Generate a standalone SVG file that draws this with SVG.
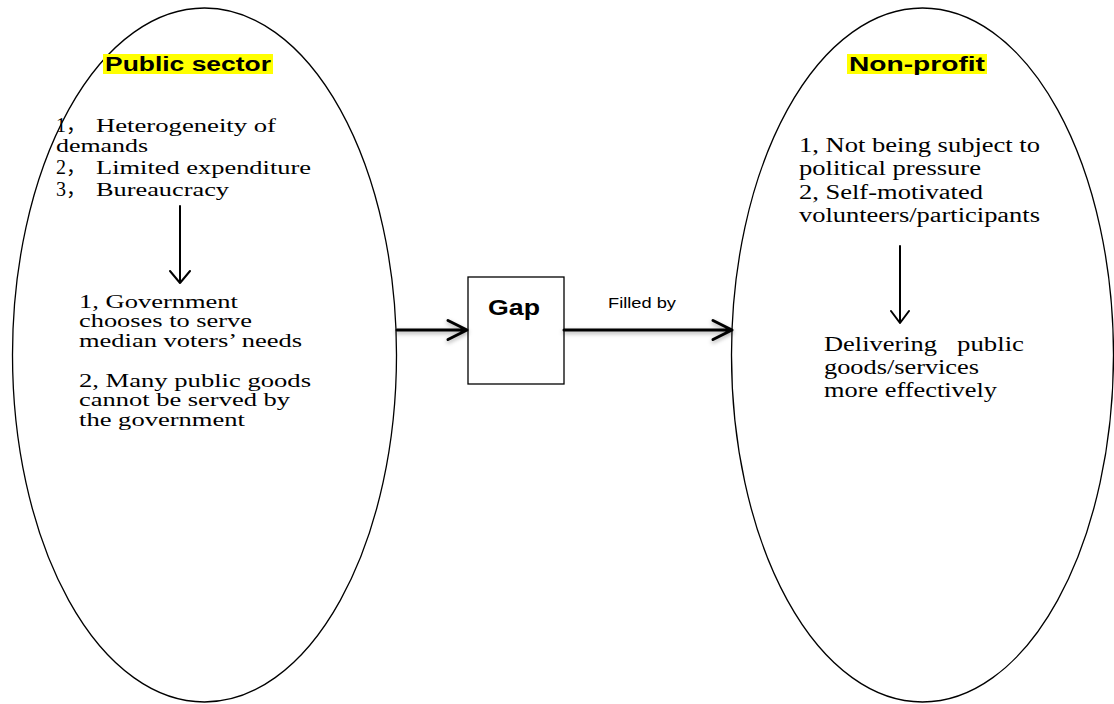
<svg xmlns="http://www.w3.org/2000/svg" width="1114" height="704" viewBox="0 0 1114 704">
<defs>
<filter id="sh" x="-10%" y="-50%" width="120%" height="300%">
<feDropShadow dx="0" dy="2" stdDeviation="2" flood-color="#000" flood-opacity="0.35"/>
</filter>
<style>
.ell{fill:#fff;stroke:#000;stroke-width:1.3}
.box{fill:#fff;stroke:#000;stroke-width:1.3}
.hl{fill:#ffff00}
.title{font-family:"Liberation Sans",Arial,sans-serif;font-weight:bold;font-size:20px;fill:#000}
.body{font-family:"Liberation Serif","Times New Roman","Noto Sans CJK SC",serif;font-size:20px;fill:#000}
.small{font-size:18px}
.num{font-size:20px}
.lbl{font-family:"Liberation Sans",Arial,sans-serif;font-size:14px;fill:#000}
.gap{font-family:"Liberation Sans",Arial,sans-serif;font-weight:bold;font-size:22px;fill:#000}
.thick{fill:none;stroke:#000;stroke-width:3;stroke-linecap:round;stroke-linejoin:round}
.thin{fill:none;stroke:#000;stroke-width:2;stroke-linecap:round;stroke-linejoin:round}
</style>
</defs>
<rect width="1114" height="704" fill="#fff"/>

<g id="public-sector">
<ellipse class="ell" cx="204.5" cy="355" rx="192" ry="347"/>
<rect class="hl" x="103" y="54" width="170" height="20"/>
<text class="title" x="105" y="71" textLength="166" lengthAdjust="spacingAndGlyphs">Public sector</text>
<text class="body small" y="132"><tspan class="num" x="56">1，</tspan><tspan x="96" textLength="180" lengthAdjust="spacingAndGlyphs">Heterogeneity of</tspan></text>
<text class="body small" x="56" y="152" textLength="92" lengthAdjust="spacingAndGlyphs">demands</text>
<text class="body small" y="174"><tspan class="num" x="56">2，</tspan><tspan x="96" textLength="215" lengthAdjust="spacingAndGlyphs">Limited expenditure</tspan></text>
<text class="body small" y="196"><tspan class="num" x="56">3，</tspan><tspan x="96" textLength="133" lengthAdjust="spacingAndGlyphs">Bureaucracy</tspan></text>
<path class="thin" d="M180,206 V283 M170,271 L180,283 L190,271"/>
<text class="body small" x="79" y="308" textLength="159" lengthAdjust="spacingAndGlyphs">1, Government</text>
<text class="body small" x="79" y="327" textLength="173" lengthAdjust="spacingAndGlyphs">chooses to serve</text>
<text class="body small" x="79" y="347" textLength="223" lengthAdjust="spacingAndGlyphs">median voters’ needs</text>
<text class="body small" x="79" y="387" textLength="232" lengthAdjust="spacingAndGlyphs">2, Many public goods</text>
<text class="body small" x="79" y="406" textLength="211" lengthAdjust="spacingAndGlyphs">cannot be served by</text>
<text class="body small" x="79" y="426" textLength="166" lengthAdjust="spacingAndGlyphs">the government</text>
</g>

<g id="non-profit">
<ellipse class="ell" cx="922.5" cy="355" rx="191" ry="347"/>
<rect class="hl" x="847" y="54" width="140" height="20"/>
<text class="title" x="849" y="71" textLength="136" lengthAdjust="spacingAndGlyphs">Non-profit</text>
<text class="body" x="799" y="152" textLength="241" lengthAdjust="spacingAndGlyphs">1, Not being subject to</text>
<text class="body" x="799" y="175" textLength="182" lengthAdjust="spacingAndGlyphs">political pressure</text>
<text class="body" x="799" y="199" textLength="184" lengthAdjust="spacingAndGlyphs">2, Self-motivated</text>
<text class="body" x="799" y="222" textLength="241" lengthAdjust="spacingAndGlyphs">volunteers/participants</text>
<path class="thin" d="M900,246 V323 M891,311 L900,323 L909,311"/>
<text class="body" y="351"><tspan x="824" textLength="113" lengthAdjust="spacingAndGlyphs">Delivering</tspan> <tspan x="957" textLength="67" lengthAdjust="spacingAndGlyphs">public</tspan></text>
<text class="body" x="824" y="374" textLength="155" lengthAdjust="spacingAndGlyphs">goods/services</text>
<text class="body" x="824" y="397" textLength="173" lengthAdjust="spacingAndGlyphs">more effectively</text>
</g>

<g id="gap">
<rect class="box" x="468" y="277" width="96" height="107"/>
<text class="gap" x="488" y="315" textLength="52" lengthAdjust="spacingAndGlyphs">Gap</text>
</g>

<g id="connectors">
<g filter="url(#sh)">
<path class="thick" d="M397,330 H467 M448,320.5 L467,330 L448,339.5"/>
<path class="thick" d="M564,330 H732 M713,320.5 L732,330 L713,339.5"/>
</g>
<text class="lbl" x="608" y="308" textLength="68" lengthAdjust="spacingAndGlyphs">Filled by</text>
</g>
</svg>
